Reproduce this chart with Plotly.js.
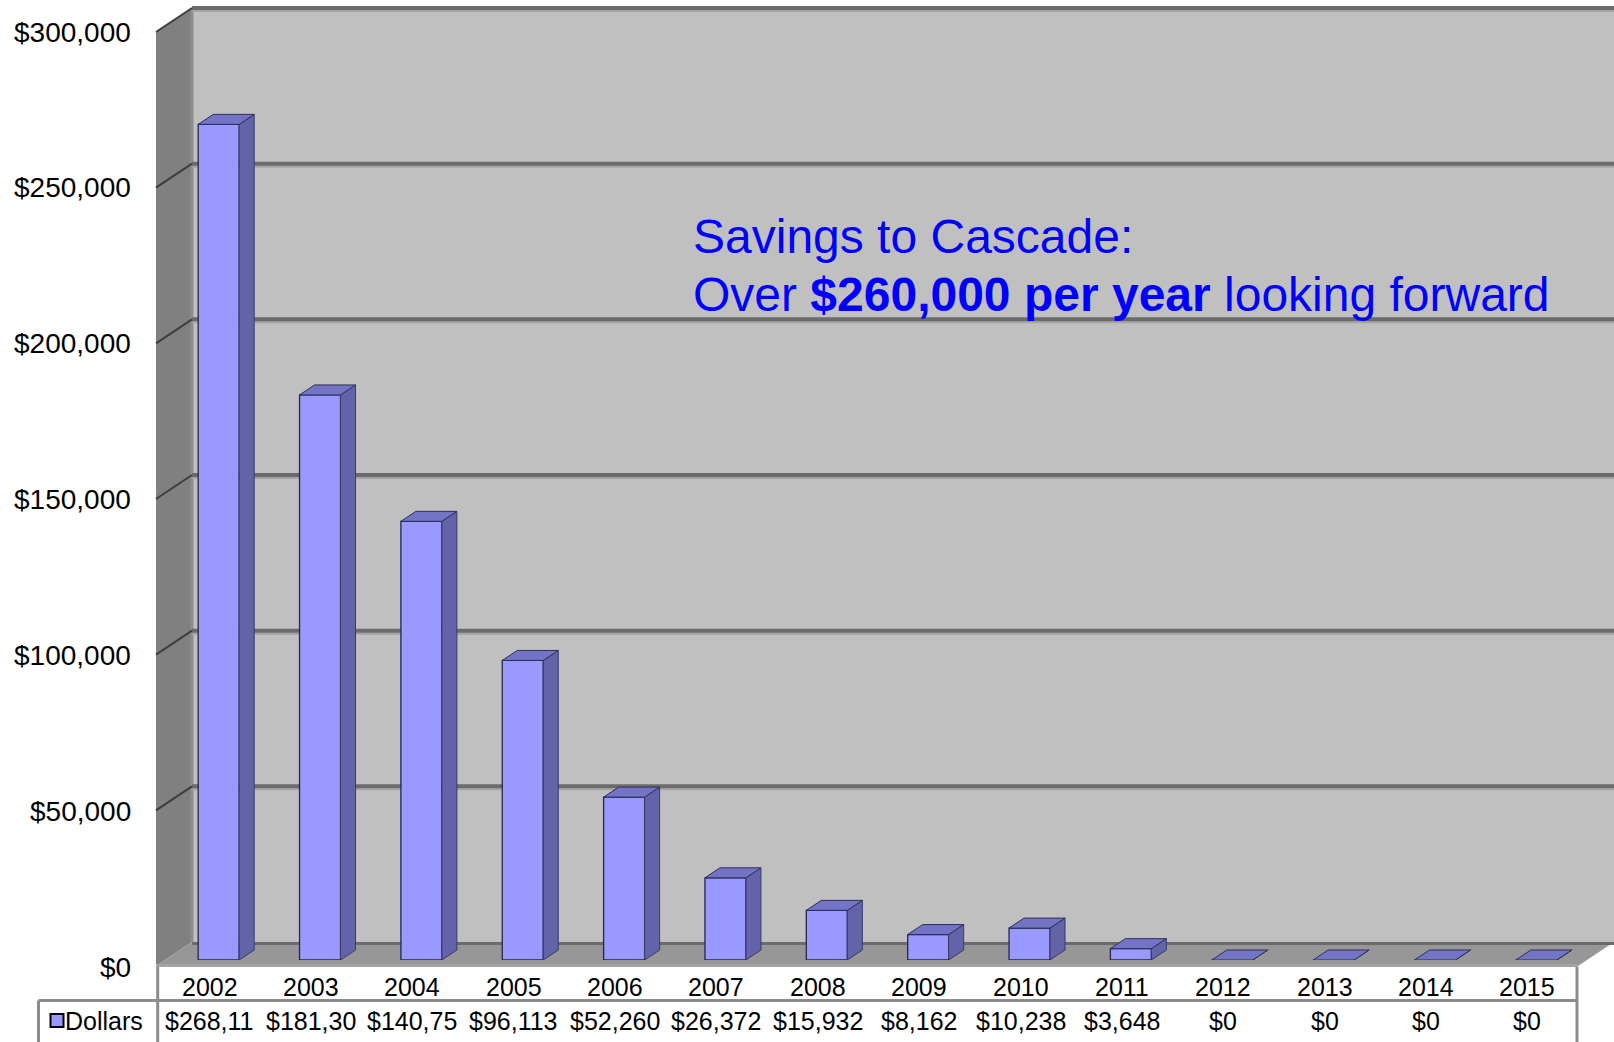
<!DOCTYPE html>
<html>
<head>
<meta charset="utf-8">
<script src="https://cdn.plot.ly/plotly-3.0.1.min.js"></script>
<style>
  html, body { margin: 0; padding: 0; background: #ffffff; }
  #chart { width: 1614px; height: 1042px; }
</style>
</head>
<body>
<div id="chart"></div>
<script>
// ---------------- data ----------------
const years = ['2002','2003','2004','2005','2006','2007','2008','2009','2010','2011','2012','2013','2014','2015'];
const dollars = [268110, 181300, 140750, 96113, 52260, 26372, 15932, 8162, 10238, 3648, 0, 0, 0, 0];
const yTickVals = [0, 50000, 100000, 150000, 200000, 250000, 300000];
const yTickText = ['$0', '$50,000', '$100,000', '$150,000', '$200,000', '$250,000', '$300,000'];
const seriesName = 'Dollars';
const titleLine1 = 'Savings to Cascade:';
const titleLine2 = 'Over <b>$260,000 per year</b> looking forward';

// ---------------- geometry ----------------
const W_PAGE = 1614, H_PAGE = 1042;
const M = { l: 168, r: 27, t: 25, b: 82 };
const L = M.l, PW = W_PAGE - M.l - M.r, B = H_PAGE - M.b, PH = H_PAGE - M.t - M.b;
const YMAX = 300000;
const nCat = years.length;
const catPx = PW / nCat;
const barW = 41 / catPx;           // bar front width in category units
const hw = barW / 2;
const dX = 15 / catPx;             // depth offset (x) in category units
const dY = 10 / PH * YMAX;         // depth offset (y) in value units
const XB = 192;                    // back wall left edge (px)

function px(x) { return (x - L) / PW; }
function py(y) { return (B - y) / PH; }
// wall planes (pixel helpers for the frame)
function yBack(v) { return 942 - v * 934 / YMAX; }
function yFront(v) { return 966 - v * 934 / YMAX; }
function path(pts) {
  return 'M' + pts.map(p => px(p[0]) + ',' + py(p[1])).join('L') + 'Z';
}
function fmt(v) { return '$' + String(v).replace(/\B(?=(\d{3})+(?!\d))/g, ','); }
const cellText = dollars.map(v => fmt(v).slice(0, 7));

// ---------------- traces ----------------
const xs = years.map((_, i) => i);
const traces = [];
traces.push({
  type: 'bar', x: xs, y: dollars, width: barW, name: seriesName,
  marker: { color: '#9999ff', line: { color: '#26264c', width: 1.3 } },
  hoverinfo: 'skip'
});
// side faces and top faces
dollars.forEach((v, i) => {
  const xr = i + hw, xl = i - hw;
  traces.push({
    type: 'scatter', mode: 'lines', fill: 'toself', hoverinfo: 'skip',
    x: [xr, xr, xr + dX, xr + dX, xr],
    y: [0, v, v + dY, dY, 0],
    fillcolor: '#6363a8', line: { color: '#3a3a6e', width: 1 }
  });
  traces.push({
    type: 'scatter', mode: 'lines', fill: 'toself', hoverinfo: 'skip',
    x: [xl, xr, xr + dX, xl + dX, xl],
    y: [v, v, v + dY, v + dY, v],
    fillcolor: '#7474c6', line: { color: '#2e2e5a', width: 1 }
  });
});

// ---------------- shapes ----------------
const shapes = [];
const P = (o) => Object.assign({ xref: 'paper', yref: 'paper', layer: 'below' }, o);
// back wall
shapes.push(P({ type: 'rect', x0: px(XB), x1: px(1614), y0: py(942), y1: py(7),
  fillcolor: '#c0c0c0', line: { width: 0 } }));
// side wall
shapes.push(P({ type: 'path', path: path([[156, yFront(YMAX)], [XB, yBack(YMAX)], [XB, yBack(0)], [156, yFront(0)]]),
  fillcolor: '#808080', line: { width: 0 } }));
// floor
shapes.push(P({ type: 'path', path: path([[156, yFront(0)], [XB, yBack(0)], [1614, yBack(0)], [1578, yFront(0)]]),
  fillcolor: '#979797', line: { width: 0 } }));
// back/side junction highlight
shapes.push(P({ type: 'line', x0: px(XB), x1: px(XB), y0: py(yBack(0)), y1: py(yBack(YMAX)),
  line: { color: '#8e8e8e', width: 3 } }));
// gridlines
yTickVals.forEach(v => {
  if (v > 0) {
    shapes.push(P({ type: 'line', x0: px(XB), x1: px(1614), y0: py(yBack(v) + 3), y1: py(yBack(v) + 3),
      line: { color: '#a4a4a4', width: 2 } }));
    shapes.push(P({ type: 'line', x0: px(XB), x1: px(1614), y0: py(yBack(v)), y1: py(yBack(v)),
      line: { color: '#6b6b6b', width: 4 } }));
    shapes.push(P({ type: 'line', x0: px(156), x1: px(XB), y0: py(yFront(v)), y1: py(yBack(v)),
      line: { color: '#3e3e3e', width: 2 } }));
  }
});
// floor back edge and front edge
shapes.push(P({ type: 'line', x0: px(XB), x1: px(1614), y0: py(943.5), y1: py(943.5),
  line: { color: '#6b6b6b', width: 3 } }));
shapes.push(P({ type: 'line', x0: px(156), x1: px(1578), y0: py(965.5), y1: py(965.5),
  line: { color: '#a3a3a3', width: 3 } }));
// table lines
const tl = { color: '#8c8c8c', width: 3 };
shapes.push(P({ layer: 'above', type: 'line', x0: px(38.5), x1: px(1577), y0: py(1000.5), y1: py(1000.5), line: tl }));
shapes.push(P({ layer: 'above', type: 'line', x0: px(38.5), x1: px(38.5), y0: py(1000.5), y1: py(1042), line: tl }));
shapes.push(P({ layer: 'above', type: 'line', x0: px(157.7), x1: px(157.7), y0: py(967), y1: py(1042), line: tl }));
shapes.push(P({ layer: 'above', type: 'line', x0: px(1577), x1: px(1577), y0: py(967), y1: py(1042), line: tl }));
// legend key in table
shapes.push(P({ layer: 'above', type: 'rect', x0: px(50.5), x1: px(63.5), y0: py(1027), y1: py(1014),
  fillcolor: '#9999ff', line: { color: '#000000', width: 2 } }));

// ---------------- annotations ----------------
const annotations = [];
const tickFont = { family: 'Liberation Sans, Arial, sans-serif', size: 28, color: '#000000' };
yTickVals.forEach((v, k) => {
  annotations.push({ xref: 'paper', yref: 'y', x: px(133), y: v, yshift: -7,
    xanchor: 'right', yanchor: 'middle', text: yTickText[k], showarrow: false, font: tickFont });
});
const tableFont = { family: 'Liberation Sans, Arial, sans-serif', size: 25, color: '#000000' };
years.forEach((yr, i) => {
  annotations.push({ xref: 'x', yref: 'paper', x: i, xshift: -9, y: py(987),
    xanchor: 'center', yanchor: 'middle', text: yr, showarrow: false, font: tableFont });
  annotations.push({ xref: 'x', yref: 'paper', x: i, xshift: -9, y: py(1021),
    xanchor: 'center', yanchor: 'middle', text: cellText[i], showarrow: false, font: tableFont });
});
annotations.push({ xref: 'paper', yref: 'paper', x: px(63), y: py(1021), xanchor: 'left', yanchor: 'middle',
  text: seriesName, showarrow: false, font: tableFont });
const titleFont = { family: 'Liberation Sans, Arial, sans-serif', size: 48, color: '#0000ff' };
annotations.push({ xref: 'paper', yref: 'paper', x: px(691), y: py(237), xanchor: 'left', yanchor: 'middle',
  text: titleLine1, showarrow: false, font: titleFont, align: 'left' });
annotations.push({ xref: 'paper', yref: 'paper', x: px(691), y: py(294), xanchor: 'left', yanchor: 'middle',
  text: titleLine2, showarrow: false, font: titleFont, align: 'left' });

const layout = {
  width: W_PAGE, height: H_PAGE,
  margin: { l: M.l, r: M.r, t: M.t, b: M.b, pad: 0, autoexpand: false },
  paper_bgcolor: '#ffffff', plot_bgcolor: 'rgba(0,0,0,0)',
  showlegend: false,
  xaxis: { range: [-0.5, nCat - 0.5], visible: false, fixedrange: true },
  yaxis: { range: [0, YMAX], visible: false, fixedrange: true },
  shapes: shapes, annotations: annotations,
  font: { family: 'Liberation Sans, Arial, sans-serif' }
};

Plotly.newPlot('chart', traces, layout, { staticPlot: true, displayModeBar: false });
</script>
</body>
</html>
